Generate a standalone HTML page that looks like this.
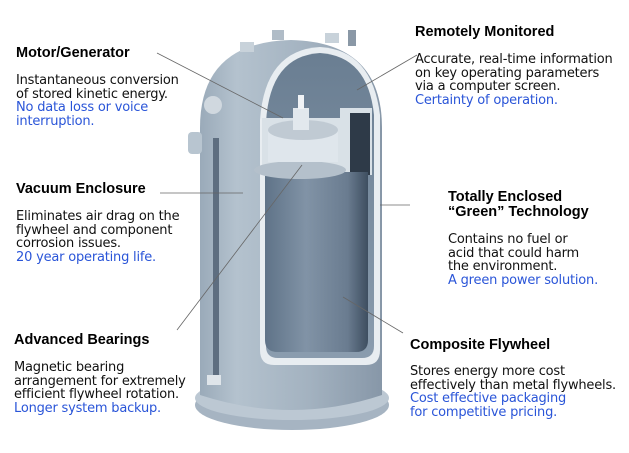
<!DOCTYPE html>
<html><head><meta charset="utf-8"><style>
body{margin:0;width:629px;height:453px;background:#fff;position:relative;overflow:hidden}
.h{position:absolute;font:bold 14.5px "Liberation Sans",sans-serif;color:#000;white-space:nowrap}
.t{position:absolute;font:13px/13.5px "DejaVu Sans",sans-serif;color:#111;white-space:nowrap;letter-spacing:-0.2px}
.b{color:#2a55d8}
svg{position:absolute;left:0;top:0}
</style></head><body>
<svg width="629" height="453" viewBox="0 0 629 453">
<defs>
<linearGradient id="body" x1="0" x2="1">
<stop offset="0" stop-color="#9aaab9"/><stop offset="0.2" stop-color="#b4c2ce"/><stop offset="0.6" stop-color="#a3b2c0"/><stop offset="1" stop-color="#8797a8"/></linearGradient>
<linearGradient id="fw" x1="0" x2="1">
<stop offset="0" stop-color="#5f7388"/><stop offset="0.4" stop-color="#8193a6"/><stop offset="0.8" stop-color="#6a7c90"/><stop offset="1" stop-color="#3e4e60"/></linearGradient>
<linearGradient id="in" x1="0" y1="0" x2="0" y2="1">
<stop offset="0" stop-color="#6a7e92"/><stop offset="1" stop-color="#8a9cae"/></linearGradient>
</defs>
<ellipse cx="292" cy="405" rx="97" ry="25" fill="#a6b4c2"/>
<ellipse cx="292" cy="398" rx="97" ry="22" fill="#bcc8d3"/>
<path d="M200 128 Q200 42 291 40 Q382 42 382 128 L382 395 Q292 425 200 395 Z" fill="url(#body)"/>
<rect x="188" y="132" width="14" height="22" rx="4" fill="#b8c5d0"/>
<circle cx="213" cy="105" r="9" fill="#d0d8df"/>
<rect x="213" y="138" width="6" height="245" fill="#5e6e80"/>
<rect x="207" y="375" width="14" height="10" fill="#dfe5ea"/>
<rect x="240" y="42" width="14" height="10" fill="#c8d2da"/>
<rect x="272" y="30" width="12" height="10" fill="#b0bcc7"/>
<rect x="325" y="33" width="14" height="10" fill="#c8d2da"/>
<rect x="348" y="30" width="8" height="16" fill="#8a98a6"/>
<path d="M260 120 Q265 50 320 47 Q372 50 380 115 L380 350 Q380 365 366 365 L274 365 Q260 365 260 350 Z" fill="#e8edf1"/>
<path d="M266 122 Q270 56 320 53 Q368 56 374 115 L374 346 Q374 358 362 358 L278 358 Q266 358 266 346 Z" fill="url(#in)"/>
<path d="M262 118 L340 118 L340 108 L372 108 L372 175 L262 175 Z" fill="#d9e1e7"/>
<rect x="350" y="113" width="20" height="62" fill="#2e3a48"/>
<path d="M265 172 L368 172 L368 340 Q368 352 356 352 L278 352 Q265 352 265 340 Z" fill="url(#fw)"/>
<ellipse cx="300" cy="170" rx="46" ry="9" fill="#b4c0cb"/>
<rect x="268" y="130" width="70" height="32" fill="#dfe6ec"/>
<ellipse cx="303" cy="130" rx="35" ry="10" fill="#c0cad3"/>
<rect x="293" y="108" width="16" height="22" fill="#e2e8ed"/>
<rect x="298" y="95" width="6" height="14" fill="#f0f3f6"/>
<g stroke="#666" stroke-width="0.8" fill="none">
<line x1="157" y1="53" x2="283" y2="118"/>
<line x1="417" y1="55" x2="357" y2="90"/>
<line x1="160" y1="193" x2="243" y2="193"/>
<line x1="380" y1="205" x2="410" y2="205"/>
<line x1="177" y1="330" x2="302" y2="165"/>
<line x1="343" y1="297" x2="403" y2="333"/>
</g>
</svg>

<div class="h" style="left:16px;top:45px">Motor/Generator</div>
<div class="t" style="left:16px;top:74px">Instantaneous conversion<br>of stored kinetic energy.<br><span class="b">No data loss or voice<br>interruption.</span></div>

<div class="h" style="left:415px;top:24px">Remotely Monitored</div>
<div class="t" style="left:415px;top:53px">Accurate, real-time information<br>on key operating parameters<br>via a computer screen.<br><span class="b">Certainty of operation.</span></div>

<div class="h" style="left:16px;top:181px">Vacuum Enclosure</div>
<div class="t" style="left:16px;top:210px">Eliminates air drag on the<br>flywheel and component<br>corrosion issues.<br><span class="b">20 year operating life.</span></div>

<div class="h" style="left:448px;top:190px;line-height:15px">Totally Enclosed<br>“Green” Technology</div>
<div class="t" style="left:448px;top:233px">Contains no fuel or<br>acid that could harm<br>the environment.<br><span class="b">A green power solution.</span></div>

<div class="h" style="left:14px;top:332px">Advanced Bearings</div>
<div class="t" style="left:14px;top:361px">Magnetic bearing<br>arrangement for extremely<br>efficient flywheel rotation.<br><span class="b">Longer system backup.</span></div>

<div class="h" style="left:410px;top:337px">Composite Flywheel</div>
<div class="t" style="left:410px;top:365px">Stores energy more cost<br>effectively than metal flywheels.<br><span class="b">Cost effective packaging<br>for competitive pricing.</span></div>
</body></html>
